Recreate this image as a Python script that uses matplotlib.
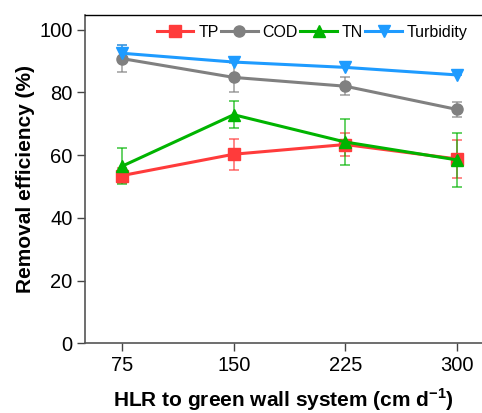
import matplotlib
matplotlib.use("Agg")
import matplotlib.pyplot as plt

plt.rcParams['font.family'] = ['Liberation Sans', 'DejaVu Sans']
plt.rcParams['mathtext.fontset'] = 'custom'
plt.rcParams['mathtext.rm'] = 'Liberation Sans'
plt.rcParams['mathtext.bf'] = 'Liberation Sans:bold'
plt.rcParams['axes.unicode_minus'] = False

hlr = [75, 150, 225, 300]
tp = [53.5, 60.3, 63.4, 58.8]
tp_err = [2.4, 5.0, 3.6, 6.0]
cod = [90.8, 84.8, 82.0, 74.6]
cod_err = [4.3, 4.5, 2.8, 2.5]
tn = [56.5, 72.9, 64.2, 58.5]
tn_err = [5.7, 4.3, 7.4, 8.5]
turb = [92.5, 89.7, 88.0, 85.6]
turb_err = [2.5, 0.0, 0.0, 0.0]

series = [
    ("TP", tp, tp_err, "#ff3b3b", "s"),
    ("COD", cod, cod_err, "#808080", "o"),
    ("TN", tn, tn_err, "#00b400", "^"),
    ("Turbidity", turb, turb_err, "#1e9bff", "v"),
]

fig = plt.figure(figsize=(4.82, 4.13), dpi=100)
ax = fig.add_axes([85/482, (413-343.3)/413, 1 - 85/482, (343.3-14.7)/413])

for name, vals, errs, col, mk in series:
    ax.errorbar(hlr, vals, yerr=errs, fmt='none', ecolor=col, alpha=0.7,
                elinewidth=1.2, capsize=3.5, capthick=1.2, zorder=2)
    ax.plot(hlr, vals, color=col, marker=mk, markersize=8, linewidth=2.2,
            label=name, zorder=3)

ax.set_xlim(50, 317)
ax.set_ylim(0, 104.8)
ax.set_xticks(hlr)
ax.set_yticks([0, 20, 40, 60, 80, 100])
ax.tick_params(axis='both', direction='out', labelsize=14.5, length=6, width=1,
               color='#444444', pad=3)
ax.spines['right'].set_visible(False)
for s in ['left', 'bottom']:
    ax.spines[s].set_color('#555555')
    ax.spines[s].set_linewidth(1.2)
ax.spines['top'].set_linewidth(1.0)

ax.set_ylabel("Removal efficiency (%)", fontsize=15, fontweight='bold', labelpad=3)
ax.set_xlabel("HLR to green wall system (cm d$^{\\mathbf{-1}}$)", fontsize=15,
              fontweight='bold', labelpad=8)

ax.legend(loc='upper right', ncol=4, frameon=False, fontsize=11.5,
          handlelength=2.3, handletextpad=0.3, columnspacing=0.15,
          bbox_to_anchor=(0.99, 1.0), borderaxespad=0.25)

fig.savefig("out.png", dpi=100)
